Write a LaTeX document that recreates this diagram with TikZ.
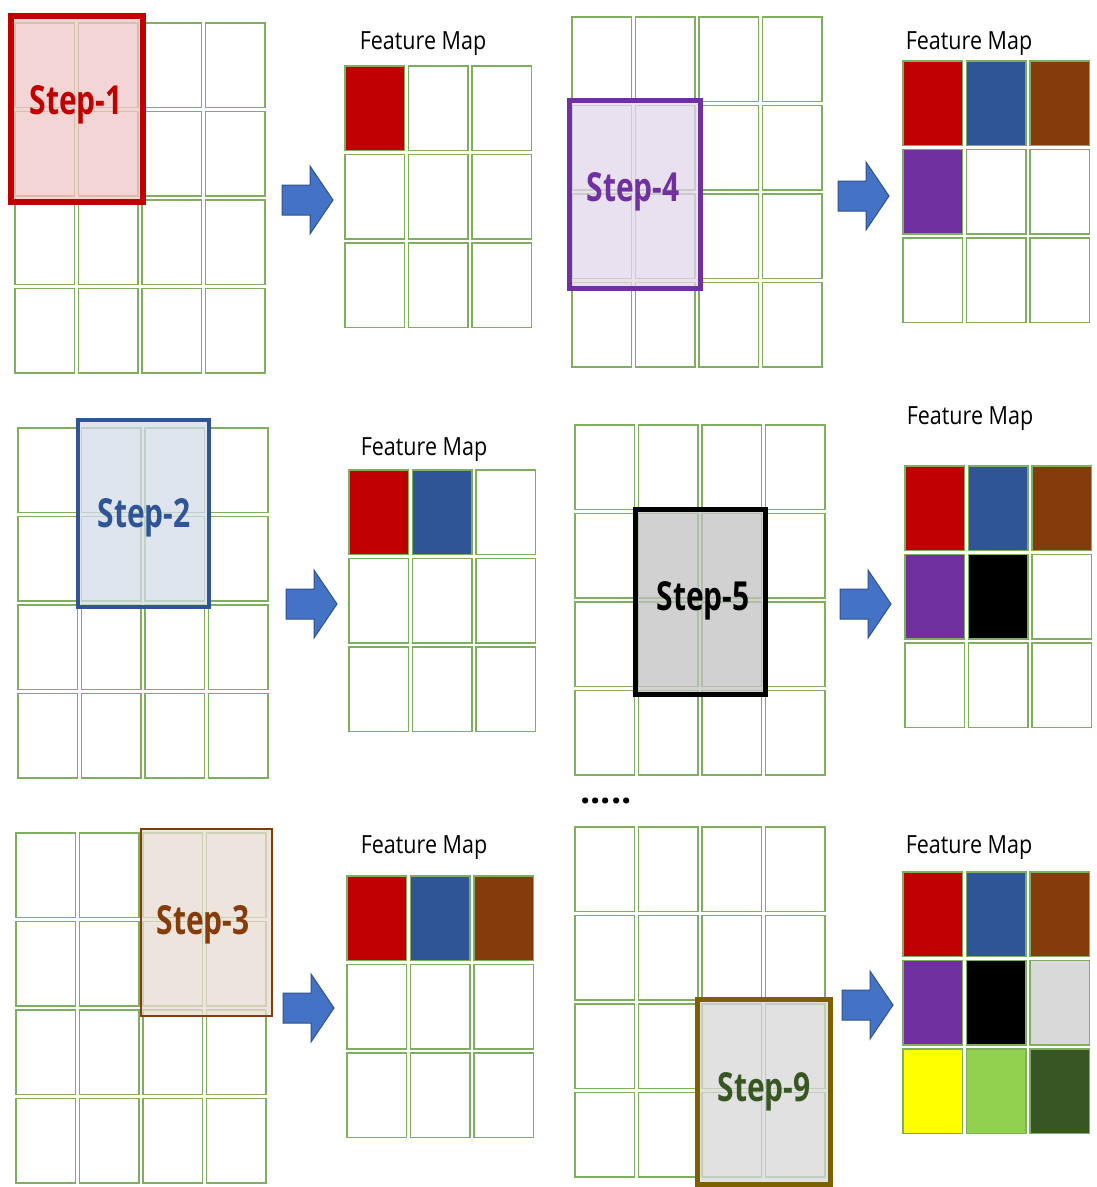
\documentclass[tikz,border=0pt]{standalone}
\usepackage{fontspec}
\setmainfont{Open Sans}
\usepackage{graphicx}
\definecolor{gridgreen}{HTML}{7FAF5E}
\definecolor{fmred}{HTML}{C00000}
\definecolor{fmblue}{HTML}{2F5597}
\definecolor{fmbrown}{HTML}{843C0C}
\definecolor{fmpurple}{HTML}{7030A0}
\definecolor{fmgrey}{HTML}{D9D9D9}
\definecolor{fmyellow}{HTML}{FFFF00}
\definecolor{fmlgreen}{HTML}{92D050}
\definecolor{fmdgreen}{HTML}{375623}
\definecolor{arrowfill}{HTML}{4472C4}
\definecolor{arrowdraw}{HTML}{2F528F}
\definecolor{olive9}{HTML}{7F6000}
\tikzset{
  cellbox/.style={draw=gridgreen, line width=1.8pt},
  stepframe/.style={fill opacity=0.75},
  steplabel/.style={inner sep=0pt, font=\bfseries\fontsize{40}{40}\selectfont},
  fmtitle/.style={inner sep=0pt, font=\fontsize{25}{25}\selectfont},
  bluearrow/.style={fill=arrowfill, draw=arrowdraw, line width=1pt, line join=miter},
}
% grid of n x n cells, top-left (x,y)
\newcommand{\cellgrid}[3]{%
  \foreach \ii in {1,...,#3}{\foreach \jj in {1,...,#3}{%
    \draw[cellbox] ({#1+(\ii-1)*63.5},{#2+(\jj-1)*88.5}) rectangle ++(59.5,84.5);
  }}}
% feature map cell fill: x0,y0,col,row,colour
\newcommand{\fmfill}[5]{%
  \fill[#5] ({#1+(#3-1)*63.5},{#2+(#4-1)*88.5}) rectangle ++(59.5,84.5);}
% arrow: x0, cy
\newcommand{\blockarrow}[2]{%
  \draw[bluearrow] (#1,#2-15) -- (#1+28,#2-15) -- (#1+28,#2-34) -- (#1+51,#2)
    -- (#1+28,#2+34) -- (#1+28,#2+15) -- (#1,#2+15) -- cycle;}
\newcommand{\sx}[1]{\scalebox{0.75}[1]{#1}}
\newcommand{\tx}[1]{\scalebox{0.86}[1]{#1}}
\begin{document}
\begin{tikzpicture}[x=1pt,y=-1pt]
\useasboundingbox (0,0) rectangle (1097,1187);
\fill[white] (0,0) rectangle (1097,1187);

% ---------------- Step 1 ----------------
\cellgrid{15}{23}{4}
\fill[fill=fmred!22, stepframe] (11,16) rectangle (143,202);
\draw[fmred, line width=6pt] (11,16) rectangle (143,202);
\node[steplabel, text=fmred] (s1) at (76,105) {\sx{Step-1}};
\blockarrow{282}{200}
\node[fmtitle] (t1) at (423,44) {\tx{Feature Map}};
\fmfill{345}{66}{1}{1}{fmred}
\cellgrid{345}{66}{3}

% ---------------- Step 4 ----------------
\cellgrid{572}{17}{4}
\fill[fill=fmpurple!20, stepframe] (569.5,100.5) rectangle (700.5,288.5);
\draw[fmpurple, line width=5pt] (569.5,100.5) rectangle (700.5,288.5);
\node[steplabel, text=fmpurple] (s4) at (633,192) {\sx{Step-4}};
\blockarrow{838}{196}
\node[fmtitle] (t4) at (969,44) {\tx{Feature Map}};
\fmfill{903}{61}{1}{1}{fmred}
\fmfill{903}{61}{2}{1}{fmblue}
\fmfill{903}{61}{3}{1}{fmbrown}
\fmfill{903}{61}{1}{2}{fmpurple}
\cellgrid{903}{61}{3}

% ---------------- Step 2 ----------------
\cellgrid{18}{428}{4}
\fill[fill=fmblue!20, stepframe] (78,420) rectangle (209,607);
\draw[fmblue, line width=4pt] (78,420) rectangle (209,607);
\node[steplabel, text=fmblue] (s2) at (144,518) {\sx{Step-2}};
\blockarrow{286}{604}
\node[fmtitle] (t2) at (424,450) {\tx{Feature Map}};
\fmfill{349}{470}{1}{1}{fmred}
\fmfill{349}{470}{2}{1}{fmblue}
\cellgrid{349}{470}{3}

% ---------------- Step 5 ----------------
\cellgrid{575}{425}{4}
\fill[fill=black!24, stepframe] (635.5,509.5) rectangle (765.5,694.5);
\draw[black, line width=5pt] (635.5,509.5) rectangle (765.5,694.5);
\node[steplabel, text=black] (s5) at (703,601) {\sx{Step-5}};
\blockarrow{840}{604}
\node[fmtitle] (t5) at (970,419) {\tx{Feature Map}};
\fmfill{905}{466}{1}{1}{fmred}
\fmfill{905}{466}{2}{1}{fmblue}
\fmfill{905}{466}{3}{1}{fmbrown}
\fmfill{905}{466}{1}{2}{fmpurple}
\fmfill{905}{466}{2}{2}{black}
\cellgrid{905}{466}{3}
\node[inner sep=0pt, font=\bfseries\fontsize{36}{36}\selectfont] (dots) at (606,801) {.....};

% ---------------- Step 3 ----------------
\cellgrid{16}{833}{4}
\fill[fill=fmbrown!18, stepframe] (141,829) rectangle (272,1016);
\draw[fmbrown, line width=2pt] (141,829) rectangle (272,1016);
\node[steplabel, text=fmbrown] (s3) at (203,925) {\sx{Step-3}};
\blockarrow{283}{1008}
\node[fmtitle] (t3) at (424,848) {\tx{Feature Map}};
\fmfill{347}{876}{1}{1}{fmred}
\fmfill{347}{876}{2}{1}{fmblue}
\fmfill{347}{876}{3}{1}{fmbrown}
\cellgrid{347}{876}{3}

% ---------------- Step 9 ----------------
\cellgrid{575}{827}{4}
\fill[fill=fmdgreen!12!black!16, stepframe] (697.5,999.5) rectangle (830.5,1184.5);
\draw[olive9, line width=5pt] (697.5,999.5) rectangle (830.5,1184.5);
\node[steplabel, text=fmdgreen] (s9) at (764,1092) {\sx{Step-9}};
\blockarrow{842}{1005}
\node[fmtitle] (t9) at (969,848) {\tx{Feature Map}};
\fmfill{903}{872}{1}{1}{fmred}
\fmfill{903}{872}{2}{1}{fmblue}
\fmfill{903}{872}{3}{1}{fmbrown}
\fmfill{903}{872}{1}{2}{fmpurple}
\fmfill{903}{872}{2}{2}{black}
\fmfill{903}{872}{3}{2}{fmgrey}
\fmfill{903}{872}{1}{3}{fmyellow}
\fmfill{903}{872}{2}{3}{fmlgreen}
\fmfill{903}{872}{3}{3}{fmdgreen}
\cellgrid{903}{872}{3}
\end{tikzpicture}
\end{document}
